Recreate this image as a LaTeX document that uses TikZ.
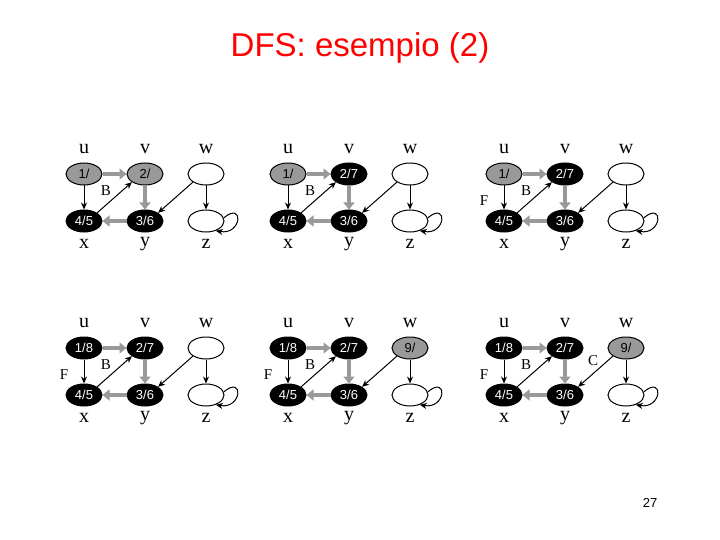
\documentclass[tikz,border=0pt]{standalone}
\usepackage{fontspec}
\setmainfont{Liberation Serif}
\newfontfamily\arialf{Liberation Sans}
\usetikzlibrary{arrows.meta,shapes.geometric}
\definecolor{gr}{HTML}{999999}
\tikzset{
 vnode/.style={ellipse,draw=black,line width=1pt,minimum width=36pt,minimum height=22pt,inner sep=0pt,font=\arialf\fontsize{13}{13}\selectfont},
 wh/.style={fill=white},
 gy/.style={fill=gr},
 bk/.style={fill=black,text=white},
 tree/.style={draw=gr,line width=4pt,-{Triangle[length=7pt,width=11pt]}},
 ed/.style={draw=black,line width=1pt,-{Stealth[length=7pt,width=6pt]}},
 lbl/.style={font=\fontsize{20}{20}\selectfont},
 el/.style={font=\fontsize{15}{15}\selectfont}
}
\newcommand\dfsgraph[9]{%
 \begin{scope}[shift={(#2,#3)}]
 \node[lbl] (#1lu) at (0,-25) {u};
 \node[lbl] (#1lv) at (61,-25) {v};
 \node[lbl] (#1lw) at (122,-25) {w};
 \node[lbl] (#1lx) at (0,70) {x};
 \node[lbl] (#1ly) at (61,70) {y};
 \node[lbl] (#1lz) at (122,70) {z};
 \node[vnode,#4] (#1u) at (0,0) {#5};
 \node[vnode,#6] (#1v) at (61,0) {#7};
 \node[vnode,#8] (#1w) at (122,0) {#9};
 \node[vnode,bk] (#1x) at (0,47) {4/5};
 \node[vnode,bk] (#1y) at (61,47) {3/6};
 \node[vnode,wh] (#1z) at (122,47) {};
 \draw[tree] (#1u) -- (#1v);
 \draw[tree] (#1v) -- (#1y);
 \draw[tree] (#1y) -- (#1x);
 \draw[ed] (#1u) -- (#1x);
 \draw[ed] (#1x.north east) -- (#1v.south west);
 \draw[ed] (#1w.south west) -- (#1y.north east);
 \draw[ed] (#1w) -- (#1z);
 \draw[ed] (#1z.10) to[out=40,in=-10,looseness=4.5] (#1z.-45);
 \node[el] (#1B) at (22,17) {B};
 \end{scope}}
\begin{document}
\begin{tikzpicture}[x=1pt,y=-1pt]
\useasboundingbox (0,0) rectangle (720,540);
\node[text=red,font=\arialf\fontsize{33}{33}\selectfont] (title) at (360,48) {DFS: esempio (2)};
\node[font=\arialf\fontsize{13}{13}\selectfont] (pg) at (650,503) {27};
\dfsgraph{a}{84}{174}{gy}{1/}{gy}{2/}{wh}{}
\dfsgraph{b}{288}{174}{gy}{1/}{bk}{2/7}{wh}{}
\dfsgraph{c}{504}{174}{gy}{1/}{bk}{2/7}{wh}{}
\dfsgraph{d}{84}{348}{bk}{1/8}{bk}{2/7}{wh}{}
\dfsgraph{e}{288}{348}{bk}{1/8}{bk}{2/7}{gy}{9/}
\dfsgraph{f}{504}{348}{bk}{1/8}{bk}{2/7}{gy}{9/}
\node[el] (cF) at (484,201) {F};
\node[el] (dF) at (64,375) {F};
\node[el] (eF) at (268,375) {F};
\node[el] (fF) at (484,375) {F};
\node[el] (fC) at (593,361) {C};
\end{tikzpicture}
\end{document}
